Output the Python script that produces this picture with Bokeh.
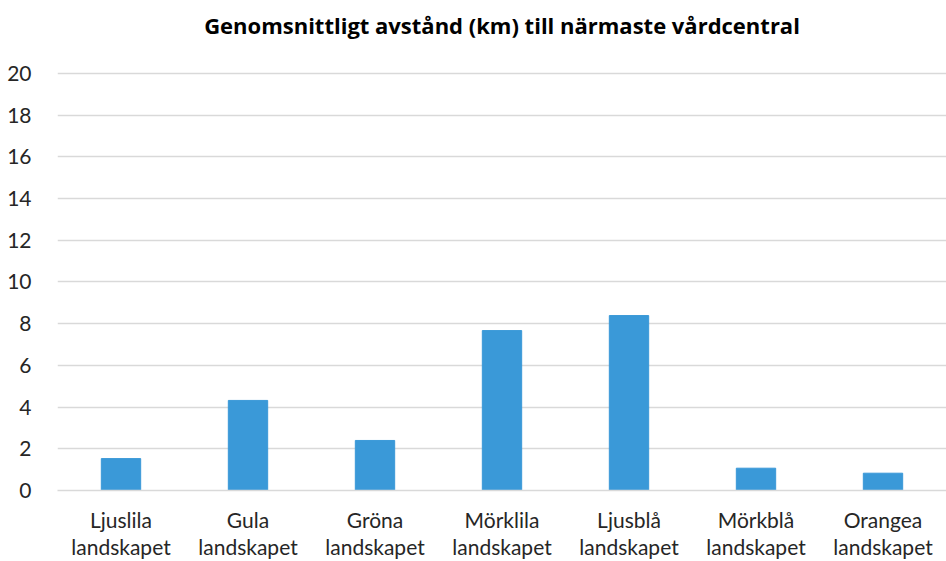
from bokeh.plotting import figure
from bokeh.models import Range1d, FixedTicker, CategoricalAxis, CustomJSTickFormatter, Label
from bokeh.embed import file_html
from bokeh.resources import INLINE

categories = ["Ljuslila landskapet", "Gula landskapet", "Gröna landskapet",
              "Mörklila landskapet", "Ljusblå landskapet", "Mörkblå landskapet",
              "Orangea landskapet"]
values = [1.53, 4.32, 2.4, 7.67, 8.39, 1.07, 0.83]
y_ticks = [0, 2, 4, 6, 8, 10, 12, 14, 16, 18, 20]
title_text = "Genomsnittligt avstånd (km) till närmaste vårdcentral"

p = figure(x_range=categories, y_range=Range1d(0, 23.5), width=946, height=561,
           output_backend="svg", toolbar_location=None,
           min_border_left=57, min_border_right=0, min_border_bottom=0, min_border_top=0)

p.vbar(x=categories, top=values, width=0.31, color="#3A99D8")

title = Label(x=len(categories) / 2, y=y_ticks[-1], y_offset=48, text=title_text,
              text_align="center", text_baseline="middle",
              text_font="Open Sans", text_font_style="bold", text_font_size="22px",
              text_color="#000000")
p.add_layout(title)

p.outline_line_color = None
p.xgrid.grid_line_color = None
p.ygrid.grid_line_color = "#D9D9D9"
p.ygrid.grid_line_width = 1.3
p.yaxis.ticker = FixedTicker(ticks=y_ticks)

ax2 = CategoricalAxis()
p.add_layout(ax2, "below")

for ax in (p.xaxis[0], p.yaxis[0], ax2):
    ax.major_tick_line_color = None
    ax.minor_tick_line_color = None
    ax.major_label_text_font = "Lato"
    ax.major_label_text_font_size = "21px"
    ax.major_label_text_color = "#262626"

p.yaxis.axis_line_color = None
p.yaxis.major_label_standoff = 20
p.xaxis[0].axis_line_color = "#D9D9D9"
p.xaxis[0].axis_line_width = 1.3
p.xaxis[0].major_label_standoff = 10
p.xaxis[0].formatter = CustomJSTickFormatter(code="return tick.split(' ')[0];")
ax2.axis_line_color = None
ax2.major_label_standoff = -7
ax2.formatter = CustomJSTickFormatter(code="return tick.split(' ')[1];")

open("out.html", "w").write(file_html(p, INLINE))
